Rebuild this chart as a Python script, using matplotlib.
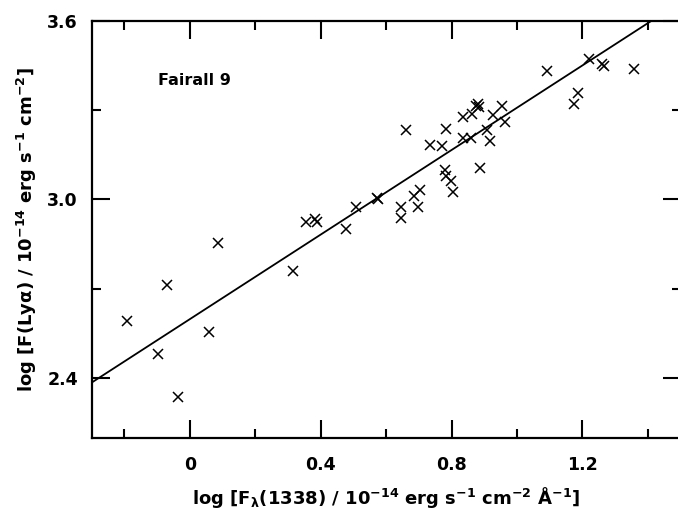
import numpy as np
import matplotlib.pyplot as plt

# log F(1338) continuum vs log F(Ly alpha), Fairall 9
log_f1338 = [-0.192, -0.069, -0.097, -0.037, 0.058, 0.085, 0.315, 0.356, 0.383, 0.388,
             0.477, 0.507, 0.571, 0.576, 0.644, 0.644, 0.686, 0.704, 0.697, 0.662,
             0.735, 0.771, 0.784, 0.781, 0.784, 0.797, 0.804, 0.835, 0.835, 0.858,
             0.863, 0.876, 0.882, 0.885, 0.887, 0.909, 0.917, 0.927, 0.954, 0.962,
             1.091, 1.175, 1.186, 1.220, 1.259, 1.266, 1.357]
log_flya = [2.591, 2.714, 2.481, 2.338, 2.555, 2.854, 2.759, 2.925, 2.934, 2.925,
            2.900, 2.975, 3.004, 3.000, 2.973, 2.939, 3.010, 3.032, 2.973, 3.234,
            3.183, 3.179, 3.237, 3.100, 3.080, 3.061, 3.026, 3.276, 3.206, 3.206,
            3.287, 3.314, 3.322, 3.310, 3.104, 3.234, 3.196, 3.282, 3.312, 3.259,
            3.430, 3.321, 3.357, 3.471, 3.454, 3.447, 3.437]

# regression line
fit_slope = 0.710
fit_intercept = 2.598

plt.rcParams['font.family'] = 'DejaVu Sans'
plt.rcParams['font.weight'] = 'bold'
plt.rcParams['axes.labelweight'] = 'bold'
plt.rcParams['mathtext.fontset'] = 'custom'
plt.rcParams['mathtext.rm'] = 'DejaVu Sans:bold'
plt.rcParams['mathtext.it'] = 'DejaVu Sans:bold'
plt.rcParams['mathtext.bf'] = 'DejaVu Sans:bold'
plt.rcParams['mathtext.default'] = 'rm'

fig = plt.figure(figsize=(6.78, 5.09), dpi=100)
ax = fig.add_axes([0.1352, 0.1401, 0.8687, 0.8192])

xs = np.array([-0.3, 1.5])
ax.plot(xs, fit_intercept + fit_slope * xs, color='black', lw=1.3)
ax.plot(log_f1338, log_flya, 'x', color='black', ms=7, mew=1.1)

ax.set_xlim(-0.3, 1.5)
ax.set_ylim(2.2, 3.6)
ax.set_xticks([0, 0.4, 0.8, 1.2])
ax.set_xticklabels(['0', '0.4', '0.8', '1.2'])
ax.set_xticks([-0.2, 0.2, 0.6, 1.0, 1.4], minor=True)
ax.set_yticks([2.4, 3.0, 3.6])
ax.set_yticklabels(['2.4', '3.0', '3.6'])
ax.set_yticks([2.7, 3.3], minor=True)

ax.tick_params(which='both', direction='in', top=True, right=True, width=1.5,
               labelsize=12.5)
ax.tick_params(axis='x', pad=13)
ax.tick_params(axis='y', pad=10)
ax.tick_params(which='major', length=13)
ax.tick_params(which='minor', length=6.5)
for s in ax.spines.values():
    s.set_linewidth(1.6)

ax.text(-0.097, 3.399, 'Fairall 9', fontsize=11.5, ha='left', va='center')

ax.set_xlabel(r'log [F$_\lambda$(1338) / 10$^{-14}$ erg s$^{-1}$ cm$^{-2}$ Å$^{-1}$]',
              fontsize=13, labelpad=8)
ax.set_ylabel(r'log [F(Lyα) / 10$^{-14}$ erg s$^{-1}$ cm$^{-2}$]',
              fontsize=13, labelpad=6)

fig.savefig('out.png', dpi=100)
